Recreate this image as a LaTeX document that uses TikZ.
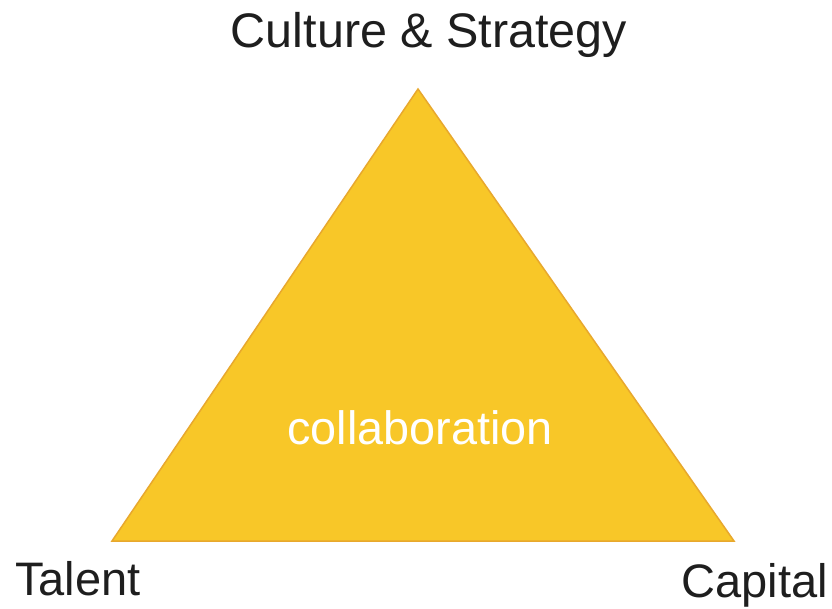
\documentclass[tikz,border=0pt]{standalone}
\usepackage{fontspec}
\setmainfont{Liberation Sans}
\definecolor{trifill}{RGB}{248,199,40}
\definecolor{triedge}{RGB}{232,168,45}
\definecolor{labtext}{RGB}{30,30,30}
\begin{document}
\begin{tikzpicture}[x=1pt,y=-1pt,
  lab/.style={font=\fontsize{47}{52}\selectfont, text=labtext, inner sep=0pt},
  inlab/.style={font=\fontsize{46.8}{52}\selectfont, text=white, inner sep=0pt},
  tri/.style={fill=trifill, draw=triedge, line width=1.5pt, line join=miter}]
\useasboundingbox (0,0) rectangle (832,608);
\fill[white] (0,0) rectangle (832,608);
\coordinate (apex) at (418,89);
\coordinate (bl) at (112,541);
\coordinate (br) at (734,541);
\draw[tri] (apex) -- (br) -- (bl) -- cycle;
\node[lab, font=\fontsize{48.5}{52}\selectfont, anchor=base] (culture) at (429,47) {Culture \& Strategy};
\node[lab, anchor=base west] (talent) at (15,595) {Talent};
\node[lab, anchor=base east] (capital) at (828,597) {Capital};
\node[inlab, anchor=base] (collab) at (420,444) {collaboration};
\end{tikzpicture}
\end{document}
